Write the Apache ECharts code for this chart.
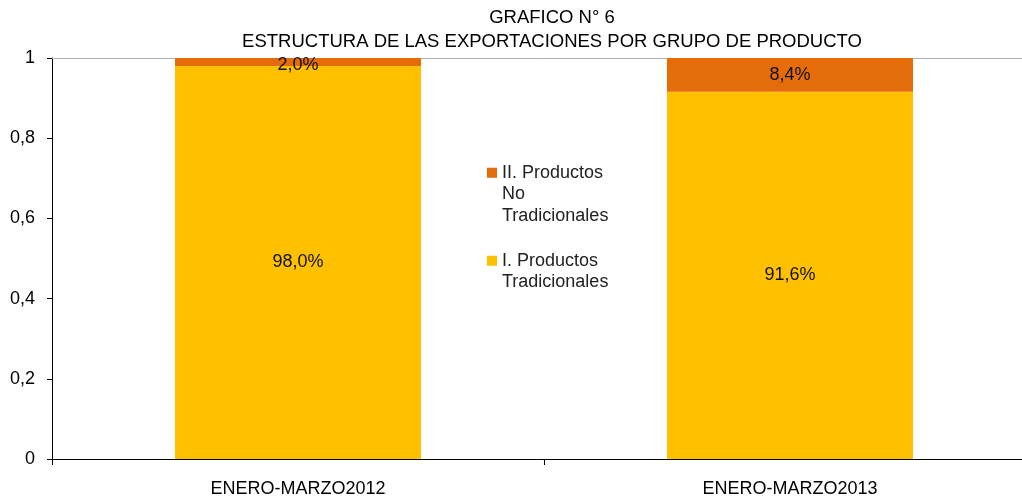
<!DOCTYPE html>
<html>
<head>
<meta charset="utf-8">
<script src="https://cdn.jsdelivr.net/npm/echarts@6/dist/echarts.min.js"></script>
<style>
  html, body { margin: 0; padding: 0; background: #fff; }
  #chart { width: 1022px; height: 496px; }
</style>
</head>
<body>
<div id="chart"></div>
<script>
const periods = ['ENERO-MARZO2012', 'ENERO-MARZO2013'];
const tradicionales = [0.98, 0.916];
const noTradicionales = [0.02, 0.084];
const yTicks = [0, 0.2, 0.4, 0.6, 0.8, 1];

const nameNT = 'II. Productos\nNo\nTradicionales';
const nameT = 'I. Productos\nTradicionales';

const chart = echarts.init(document.getElementById('chart'));

const pct = (v) => (v * 100).toFixed(1).replace('.', ',') + '%';
const font = 'Liberation Sans, Arial, sans-serif';

// legend marker sits next to the first text line, not the middle of the block
const legendText = { fontFamily: font, fontSize: 18, color: '#222', lineHeight: 21.5 };
const topSquare = (h) => `path://M0,0L0.01,0M0,${h}L0.01,${h}M0,5.75L10,5.75L10,15.75L0,15.75Z`;

const option = {
  animation: false,
  title: {
    text: 'GRAFICO N° 6\nESTRUCTURA DE LAS EXPORTACIONES POR GRUPO DE PRODUCTO',
    left: 552,
    top: 6,
    padding: 0,
    textAlign: 'center',
    textStyle: {
      fontFamily: font,
      fontSize: 18.5,
      fontWeight: 'normal',
      color: '#000',
      lineHeight: 24
    }
  },
  legend: [
    {
      left: 487,
      top: 162,
      padding: 0,
      itemWidth: 10,
      itemHeight: 64.5,
      data: [{ name: nameNT, icon: topSquare(64.5) }],
      textStyle: legendText
    },
    {
      left: 487,
      top: 250,
      padding: 0,
      itemWidth: 10,
      itemHeight: 43,
      data: [{ name: nameT, icon: topSquare(43) }],
      textStyle: legendText
    }
  ],
  grid: { left: 52, width: 984, top: 58, bottom: 37, outerBoundsMode: 'none', containLabel: false },
  xAxis: [
    {
      type: 'category',
      data: periods,
      axisLine: { lineStyle: { color: '#000', width: 1 } },
      axisTick: { show: true, length: 6, lineStyle: { color: '#000' } },
      axisLabel: {
        margin: 21,
        fontFamily: font,
        fontSize: 18,
        color: '#000'
      }
    },
    {
      type: 'category',
      position: 'top',
      data: periods,
      axisLine: { lineStyle: { color: '#b0b0b0', width: 1 } },
      axisTick: { show: false },
      axisLabel: { show: false }
    }
  ],
  yAxis: {
    type: 'value',
    min: 0,
    max: 1,
    interval: 0.2,
    axisLine: { show: true, lineStyle: { color: '#000' } },
    axisTick: { show: true, length: 5, lineStyle: { color: '#000' } },
    splitLine: { show: false },
    axisLabel: {
      margin: 17,
      fontFamily: font,
      fontSize: 18,
      color: '#000',
      formatter: (v) => (yTicks.includes(+v.toFixed(1)) ? String(+v.toFixed(1)).replace('.', ',') : '')
    }
  },
  series: [
    {
      name: nameT,
      type: 'bar',
      stack: 'total',
      barWidth: 246,
      data: tradicionales,
      itemStyle: { color: '#FFC000' },
      label: {
        show: true,
        position: 'inside',
        formatter: (p) => pct(p.value),
        fontFamily: font,
        fontSize: 18,
        color: '#111'
      }
    },
    {
      name: nameNT,
      type: 'bar',
      stack: 'total',
      barWidth: 246,
      data: noTradicionales.map((v, i) => ({
        value: v,
        label: i === 0 ? { offset: [0, 3] } : {}
      })),
      itemStyle: { color: '#E46C0A' },
      label: {
        show: true,
        position: 'inside',
        formatter: (p) => pct(p.value),
        fontFamily: font,
        fontSize: 18,
        color: '#111'
      }
    }
  ]
};

chart.setOption(option);
</script>
</body>
</html>
